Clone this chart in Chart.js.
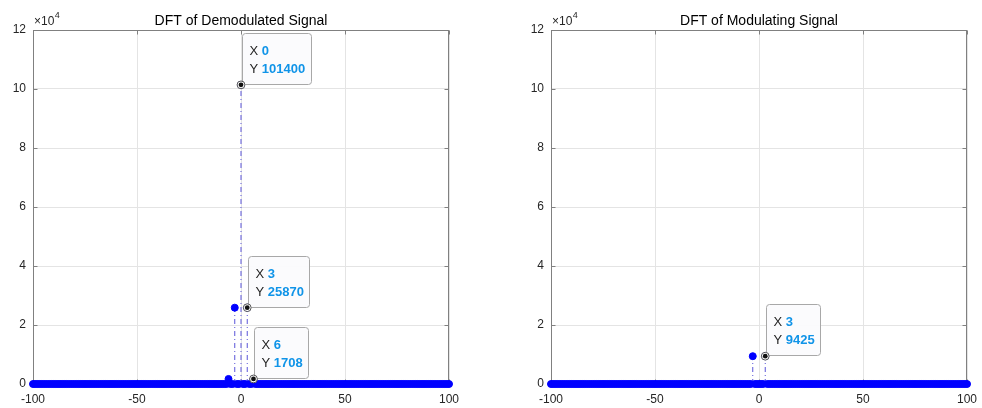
<!DOCTYPE html>
<html>
<head>
<meta charset="utf-8">
<title>DFT spectra</title>
<script src="https://cdn.jsdelivr.net/npm/chart.js@4.4.1/dist/chart.umd.min.js"></script>
<style>
  html, body { margin: 0; padding: 0; background: #ffffff; width: 982px; height: 408px; overflow: hidden; }
  .panel { position: absolute; top: 0; width: 460px; height: 408px; }
  #leftPanel { left: 0; }
  #rightPanel { left: 518px; }
  canvas { display: block; }
</style>
</head>
<body>
<div class="panel" id="leftPanel"><canvas id="demodChart" width="460" height="408"></canvas></div>
<div class="panel" id="rightPanel"><canvas id="modChart" width="460" height="408"></canvas></div>
<script>
// Frequency bins shown on both spectra (integers from -100 to 100)
const freqBins = [];
for (let k = -100; k <= 100; k++) freqBins.push(k);

// Non-zero DFT magnitudes; every other bin is zero
const demodPeakBins = [-6, -3, 0, 3, 6];
const demodPeakValues = [1708, 25870, 101400, 25870, 1708];
const modPeakBins = [-3, 3];
const modPeakValues = [9425, 9425];

// Bins that carry a data tip
const demodTipBins = [0, 3, 6];
const modTipBins = [3];

// Axis ticks
const xTickValues = [-100, -50, 0, 50, 100];
const yTickValues = [0, 20000, 40000, 60000, 80000, 100000, 120000];
const yExponent = 4;

const demodTitle = 'DFT of Demodulated Signal';
const modTitle = 'DFT of Modulating Signal';

const FONT = '"Liberation Sans", Arial, Helvetica, sans-serif';
const AXIS_COLOR = '#808080';
const TEXT_COLOR = '#262626';
const MARKER_BLUE = '#0000ff';
const STEM_COLOR = '#5a55d8';
const TIP_VALUE_COLOR = '#1094e8';

function spectrumFrom(peakBins, peakValues) {
  return freqBins.map(k => {
    const i = peakBins.indexOf(k);
    return i >= 0 ? peakValues[i] : 0;
  });
}

const demodSpectrum = spectrumFrom(demodPeakBins, demodPeakValues);
const modSpectrum = spectrumFrom(modPeakBins, modPeakValues);

function roundRect(ctx, x, y, w, h, r) {
  ctx.beginPath();
  ctx.moveTo(x + r, y);
  ctx.lineTo(x + w - r, y);
  ctx.arcTo(x + w, y, x + w, y + r, r);
  ctx.lineTo(x + w, y + h - r);
  ctx.arcTo(x + w, y + h, x + w - r, y + h, r);
  ctx.lineTo(x + r, y + h);
  ctx.arcTo(x, y + h, x, y + h - r, r);
  ctx.lineTo(x, y + r);
  ctx.arcTo(x, y, x + r, y, r);
  ctx.closePath();
}

// Axes box, inward tick marks, title, exponent label and data tips
const framePlugin = {
  id: 'frame',
  beforeDatasetsDraw(chart) {
    const { ctx, chartArea: a, scales } = chart;
    ctx.save();
    ctx.strokeStyle = AXIS_COLOR;
    ctx.lineWidth = 1;
    const L = Math.round(a.left) + 0.5, T = Math.round(a.top) + 0.5;
    const R = Math.round(a.right) - 0.5, B = Math.round(a.bottom) - 0.5;
    ctx.strokeRect(L, T, R - L, B - T);
    const len = 4;
    ctx.beginPath();
    xTickValues.forEach(v => {
      const x = Math.round(scales.x.getPixelForValue(v)) + 0.5;
      ctx.moveTo(x, B); ctx.lineTo(x, B - len);
      ctx.moveTo(x, T); ctx.lineTo(x, T + len);
    });
    yTickValues.forEach(v => {
      const y = Math.round(scales.y.getPixelForValue(v)) + 0.5;
      ctx.moveTo(L, y); ctx.lineTo(L + len, y);
      ctx.moveTo(R, y); ctx.lineTo(R - len, y);
    });
    ctx.stroke();
    ctx.restore();
  },
  afterDatasetsDraw(chart, args, opts) {
    const { ctx, scales } = chart;
    const spectrum = opts.spectrum;
    (opts.tips || []).forEach(bin => {
      const value = spectrum[freqBins.indexOf(bin)];
      const px = scales.x.getPixelForValue(bin);
      const py = scales.y.getPixelForValue(value);
      ctx.save();
      const lines = [['X', String(bin)], ['Y', String(value)]];
      let w = 0;
      lines.forEach(([k, v]) => {
        ctx.font = '13px ' + FONT;
        const kw = ctx.measureText(k + ' ').width;
        ctx.font = 'bold 13px ' + FONT;
        w = Math.max(w, kw + ctx.measureText(v).width);
      });
      const bw = Math.round(w + 13), bh = 51;
      const bx = Math.round(px) + 1.5, by = Math.round(py) - bh - 0.5;
      roundRect(ctx, bx, by, bw, bh, 3);
      ctx.fillStyle = 'rgba(251,251,253,0.96)';
      ctx.fill();
      ctx.strokeStyle = '#a8a8a8';
      ctx.lineWidth = 1;
      ctx.stroke();
      ctx.textBaseline = 'middle';
      ctx.textAlign = 'left';
      lines.forEach(([k, v], i) => {
        const ty = by + 18 + i * 18;
        ctx.font = '13px ' + FONT;
        ctx.fillStyle = TEXT_COLOR;
        ctx.fillText(k, bx + 7, ty);
        const kw = ctx.measureText(k + ' ').width;
        ctx.font = 'bold 13px ' + FONT;
        ctx.fillStyle = TIP_VALUE_COLOR;
        ctx.fillText(v, bx + 7 + kw, ty);
      });
      // data tip marker
      ctx.beginPath();
      ctx.arc(px, py, 3.9, 0, Math.PI * 2);
      ctx.fillStyle = '#ffffff';
      ctx.fill();
      ctx.strokeStyle = '#555555';
      ctx.lineWidth = 1;
      ctx.stroke();
      ctx.beginPath();
      ctx.arc(px, py, 2.4, 0, Math.PI * 2);
      ctx.fillStyle = '#111111';
      ctx.fill();
      ctx.restore();
    });
  },
  afterDraw(chart, args, opts) {
    const { ctx, chartArea: a } = chart;
    ctx.save();
    ctx.fillStyle = '#000000';
    ctx.font = '14px ' + FONT;
    ctx.textAlign = 'center';
    ctx.textBaseline = 'alphabetic';
    ctx.fillText(opts.title, (a.left + a.right) / 2, 24.5);
    // axis exponent label
    ctx.fillStyle = TEXT_COLOR;
    ctx.textAlign = 'left';
    ctx.font = '12px ' + FONT;
    const base = '\u00d710';
    ctx.fillText(base, a.left + 1, 25);
    const bw = ctx.measureText(base).width;
    ctx.font = '9px ' + FONT;
    ctx.fillText(String(yExponent), a.left + 1 + bw + 0.5, 17.5);
    ctx.restore();
  }
};

function makeChart(canvasId, title, spectrum, tips) {
  const points = freqBins.map((k, i) => ({ x: k, y: spectrum[i] }));
  const stems = [];
  freqBins.forEach((k, i) => {
    stems.push({ x: k, y: 0 }, { x: k, y: spectrum[i] }, { x: k, y: null });
  });
  const tickFont = { family: FONT, size: 12 };
  return new Chart(document.getElementById(canvasId), {
    type: 'scatter',
    data: {
      datasets: [
        {
          label: 'markers',
          data: points,
          pointRadius: 3.5,
          pointHoverRadius: 3.5,
          pointBackgroundColor: MARKER_BLUE,
          pointBorderColor: MARKER_BLUE,
          pointBorderWidth: 1,
          showLine: false,
          clip: false,
          order: 0
        },
        {
          label: 'stems',
          data: stems,
          showLine: true,
          spanGaps: false,
          pointRadius: 0,
          borderColor: STEM_COLOR,
          borderWidth: 1,
          borderDash: [5, 3, 1, 3],
          clip: false,
          order: 1
        }
      ]
    },
    options: {
      responsive: false,
      animation: false,
      devicePixelRatio: 1,
      events: [],
      layout: { padding: { top: 30, right: 11, left: 0, bottom: 0 } },
      plugins: {
        legend: { display: false },
        tooltip: { enabled: false },
        title: { display: false },
        frame: { title: title, spectrum: spectrum, tips: tips }
      },
      scales: {
        x: {
          type: 'linear',
          min: xTickValues[0],
          max: xTickValues[xTickValues.length - 1],
          afterBuildTicks(s) { s.ticks = xTickValues.map(v => ({ value: v })); },
          afterFit(s) { s.height = 24; s.paddingLeft = 0; s.paddingRight = 0; },
          ticks: { color: TEXT_COLOR, font: tickFont, padding: 8, maxRotation: 0, autoSkip: false },
          grid: { color: '#e4e4e4', drawTicks: false, lineWidth: 1 },
          border: { display: false }
        },
        y: {
          type: 'linear',
          min: yTickValues[0],
          max: yTickValues[yTickValues.length - 1],
          afterBuildTicks(s) { s.ticks = yTickValues.map(v => ({ value: v })); },
          afterFit(s) { s.width = 33; s.paddingTop = 0; s.paddingBottom = 0; },
          ticks: {
            color: TEXT_COLOR, font: tickFont, padding: 7, autoSkip: false,
            callback: v => String(v / Math.pow(10, yExponent))
          },
          grid: { color: '#e4e4e4', drawTicks: false, lineWidth: 1 },
          border: { display: false }
        }
      }
    },
    plugins: [framePlugin]
  });
}

makeChart('demodChart', demodTitle, demodSpectrum, demodTipBins);
makeChart('modChart', modTitle, modSpectrum, modTipBins);
</script>
</body>
</html>
